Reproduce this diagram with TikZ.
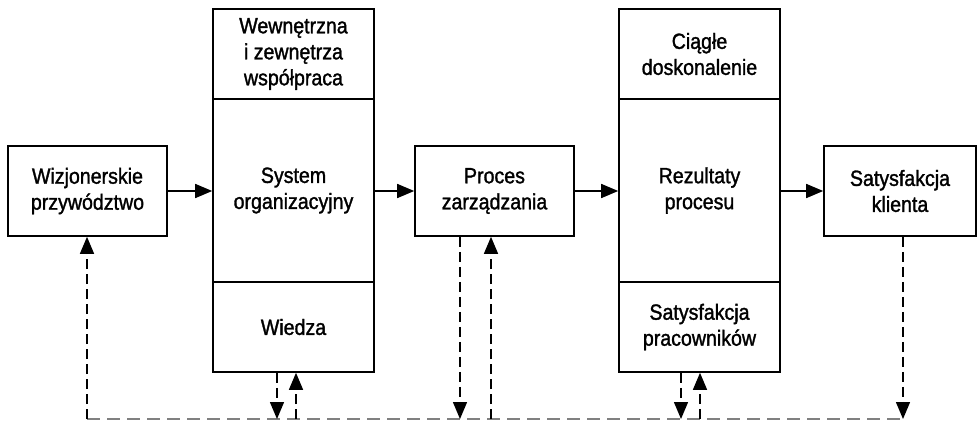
\documentclass[tikz,border=0pt]{standalone}
\usepackage{fontspec}
\setmainfont{Liberation Sans}[FakeStretch=0.89,FakeBold=1.4]
\usetikzlibrary{arrows.meta}
\begin{document}
\begin{tikzpicture}[x=1pt,y=-1pt,
  box/.style={draw,line width=1.6pt,rectangle,inner sep=0pt,align=center,
    font=\fontsize{22}{26}\selectfont},
  flow/.style={line width=1.6pt,-{Triangle[length=17pt,width=14pt]}},
  feedback/.style={line width=1.4pt,dash pattern=on 10pt off 5pt,
    -{Triangle[length=17pt,width=14pt]}},
  baseline line/.style={line width=1.4pt,gray,dash pattern=on 13pt off 7pt}]
\useasboundingbox (0,0) rectangle (977,421);

% main chain
\node[box,minimum width=159pt,minimum height=90pt] (lead) at (87.5,191) {Wizjonerskie\\przywództwo};

\node[box,minimum width=161pt,minimum height=90pt]  (coop) at (293.5,54)  {Wewnętrzna\\i zewnętrza\\współpraca};
\node[box,minimum width=161pt,minimum height=183pt] (org)  at (293.5,190.5) {System\\organizacyjny};
\node[box,minimum width=161pt,minimum height=90pt]  (know) at (293.5,327) {Wiedza};

\node[box,minimum width=159pt,minimum height=90pt] (proc) at (494.5,191) {Proces\\zarządzania};

\node[box,minimum width=161pt,minimum height=90pt]  (impr)  at (699.5,54)  {Ciągłe\\doskonalenie};
\node[box,minimum width=161pt,minimum height=183pt] (res)   at (699.5,190.5) {Rezultaty\\procesu};
\node[box,minimum width=161pt,minimum height=90pt]  (staff) at (699.5,327) {Satysfakcja\\pracowników};

\node[box,minimum width=152pt,minimum height=90pt] (cust) at (900,191) {Satysfakcja\\klienta};

\draw[flow] (lead.east) -- (org.west |- lead.east);
\draw[flow] (org.east |- proc.west) -- (proc.west);
\draw[flow] (proc.east) -- (res.west |- proc.east);
\draw[flow] (res.east |- cust.west) -- (cust.west);

% feedback loop along the bottom
\coordinate (bL) at (87,419);
\coordinate (bR) at (903,419);
\coordinate (k1) at (277,419);
\coordinate (k2) at (296,419);
\coordinate (p1) at (460,419);
\coordinate (p2) at (491,419);
\coordinate (s1) at (681,419);
\coordinate (s2) at (700,419);

\draw[baseline line] (bL) -- (bR);

\draw[feedback] (bL) -- (bL |- lead.south);
\draw[feedback] (k1 |- know.south) -- (k1);
\draw[feedback] (k2) -- (k2 |- know.south);
\draw[feedback] (p1 |- proc.south) -- (p1);
\draw[feedback] (p2) -- (p2 |- proc.south);
\draw[feedback] (s1 |- staff.south) -- (s1);
\draw[feedback] (s2) -- (s2 |- staff.south);
\draw[feedback] (bR |- cust.south) -- (bR);
\end{tikzpicture}
\end{document}
